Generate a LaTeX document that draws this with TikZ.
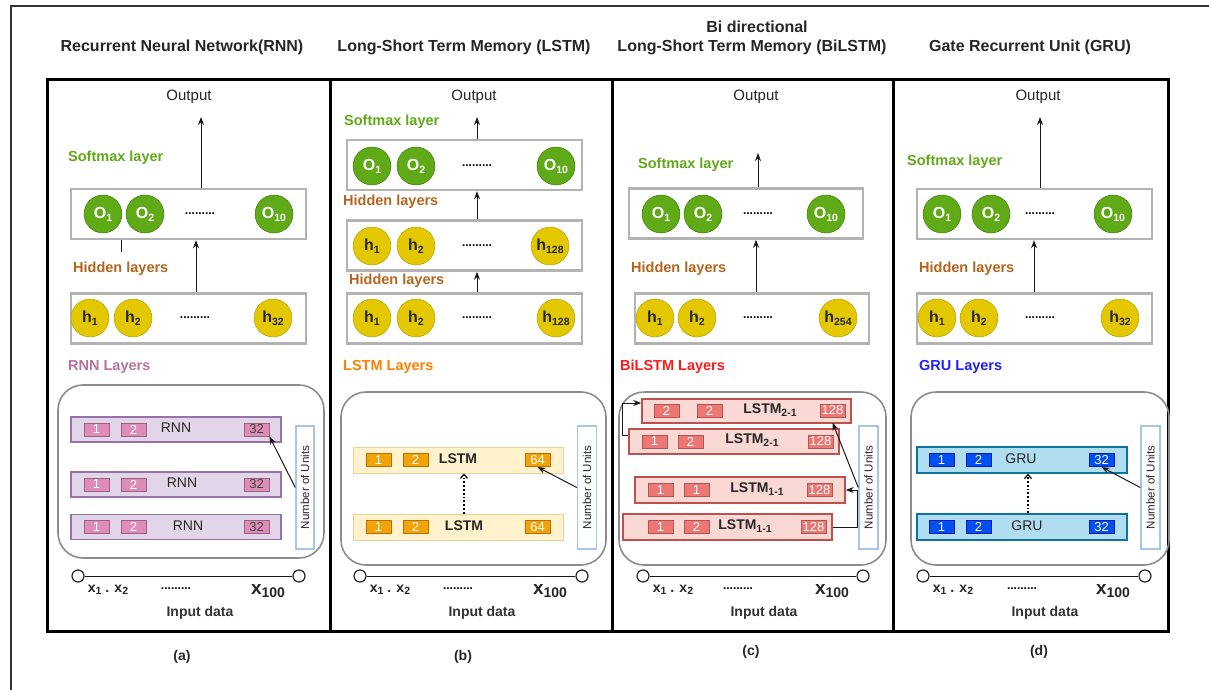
\documentclass[tikz,border=0pt]{standalone}
\usepackage{fontspec}
\setmainfont{Liberation Sans}
\usetikzlibrary{arrows.meta}

\definecolor{framecol}{HTML}{333333}
\definecolor{boxgray}{HTML}{B3B3B3}
\definecolor{contgray}{HTML}{8C8C8C}
\definecolor{softgreen}{HTML}{60A917}
\definecolor{softgreenline}{HTML}{2D7600}
\definecolor{hidyellow}{HTML}{E3C800}
\definecolor{hidyellowline}{HTML}{B09500}
\definecolor{hiddenbrown}{HTML}{B5651D}
\definecolor{rnnlbl}{HTML}{B5739D}
\definecolor{lstmlbl}{HTML}{FF8000}
\definecolor{bilstmlbl}{HTML}{FF1A1A}
\definecolor{grulbl}{HTML}{1F1FFF}
\definecolor{rnnbarfill}{HTML}{E1D5E7}
\definecolor{rnnbarline}{HTML}{9673A6}
\definecolor{rnncellfill}{HTML}{DE8DB6}
\definecolor{rnncellline}{HTML}{996185}
\definecolor{lstmbarfill}{HTML}{FFF2CC}
\definecolor{lstmbarline}{HTML}{D6B656}
\definecolor{lstmcellfill}{HTML}{F0A30A}
\definecolor{lstmcellline}{HTML}{BD7000}
\definecolor{bibarfill}{HTML}{FAD9D5}
\definecolor{bibarline}{HTML}{C0504D}
\definecolor{bicellfill}{HTML}{EC7774}
\definecolor{bicellline}{HTML}{B85450}
\definecolor{grubarfill}{HTML}{B1DDF0}
\definecolor{grubarline}{HTML}{10739E}
\definecolor{grucellfill}{HTML}{0050EF}
\definecolor{grucellline}{HTML}{001DBC}
\definecolor{unitsline}{HTML}{A9C4EB}

% lowered subscript with a fixed size
\newcommand{\lsub}[2][10.5]{\raisebox{-0.35ex}{\fontsize{#1}{#1}\selectfont #2}}

\tikzset{
  panel/.style={draw=black, line width=3pt},
  paneltitle/.style={font=\bfseries\fontsize{16}{16}\selectfont, text=black!85},
  outtext/.style={font=\fontsize{15}{15}\selectfont, text=black!85},
  layerlbl/.style={anchor=west, inner sep=0pt, font=\bfseries\fontsize{14.5}{14.5}\selectfont},
  layerbox/.style={draw=boxgray, line width=2.5pt, fill=white, minimum height=50pt, inner sep=0pt},
  onode/.style={circle, draw=softgreenline, fill=softgreen, minimum size=38pt, inner sep=0pt,
    text=white, font=\bfseries\fontsize{16}{16}\selectfont},
  hnode/.style={circle, draw=hidyellowline, fill=hidyellow, minimum size=38pt, inner sep=0pt,
    text=black!85, font=\bfseries\fontsize{16}{16}\selectfont},
  dotrow/.style={font=\bfseries\fontsize{12}{12}\selectfont, inner sep=0pt},
  container/.style={draw=contgray, line width=1.6pt, rounded corners=25pt, minimum height=173pt},
  cellbox/.style={minimum width=25pt, minimum height=13pt, inner sep=0pt, line width=1pt,
    text=white, font=\fontsize{13}{13}\selectfont},
  rnnbar/.style={draw=rnnbarline, fill=rnnbarfill, line width=1.3pt, minimum width=210pt, minimum height=25pt},
  rnncell/.style={cellbox, draw=rnncellline, fill=rnncellfill},
  lstmbar/.style={draw=lstmbarline!60, fill=lstmbarfill, line width=1pt, minimum width=210pt, minimum height=26pt},
  lstmcell/.style={cellbox, draw=lstmcellline, fill=lstmcellfill},
  bibar/.style={draw=bibarline, fill=bibarfill, line width=1.5pt, minimum width=209pt, minimum height=25pt},
  bicell/.style={cellbox, draw=bicellline, fill=bicellfill},
  grubar/.style={draw=grubarline, fill=grubarfill, line width=1.5pt, minimum width=210pt, minimum height=26pt},
  grucell/.style={cellbox, draw=grucellline, fill=grucellfill},
  bartext/.style={font=\fontsize{14}{14}\selectfont, text=black!85, inner sep=0pt},
  boldbar/.style={bartext, font=\bfseries\fontsize{14}{14}\selectfont},
  unitsbox/.style={draw=unitsline, fill=white, line width=1.5pt, minimum height=123pt, minimum width=19pt},
  unitstext/.style={rotate=90, font=\fontsize{11.5}{11.5}\selectfont, text=black!85, inner sep=0pt},
  incircle/.style={circle, draw=black!85, fill=white, line width=1.2pt, minimum size=12pt, inner sep=0pt},
  xtext/.style={font=\bfseries\fontsize{14}{14}\selectfont, text=black!85, inner sep=0pt},
  xbig/.style={font=\bfseries\fontsize{19}{19}\selectfont, text=black!85, inner sep=0pt},
  intext/.style={font=\bfseries\fontsize{14}{14}\selectfont, text=black!80},
  captext/.style={font=\bfseries\fontsize{14}{14}\selectfont, text=black!85},
  conn/.style={line width=1pt, draw=black!90},
  arr/.style={conn, -{Stealth[length=8pt,width=6pt]}},
  dotarr/.style={line width=1.8pt, dotted, -{Straight Barb[length=4pt,width=7pt,line width=1.2pt]}}
}

\begin{document}
\begin{tikzpicture}[x=1pt, y=-1pt]

\useasboundingbox (0,0) rectangle (1209,690);

% Outer frame and panels.

	\draw[framecol, line width=2pt] (11,690) -- (11,6) -- (1209,6);

	\draw[panel] (47,80) rectangle (330,631);
	\draw[panel] (330,80) rectangle (612,631);
	\draw[panel] (612,80) rectangle (893,631);
	\draw[panel] (893,80) rectangle (1168,631);

% Titles.

	\node[paneltitle] (aTitle) at (182,47) {Recurrent Neural Network(RNN)};
	\node[paneltitle] (bTitle) at (464,47) {Long-Short Term Memory (LSTM)};
	\node[paneltitle] (cTitleTop) at (757,27) {Bi directional};
	\node[paneltitle] (cTitle) at (752,47) {Long-Short Term Memory (BiLSTM)};
	\node[paneltitle] (dTitle) at (1030,47) {Gate Recurrent Unit (GRU)};

% Panel (a): RNN.

	%output and softmax layer
	\node[outtext] (aOut) at (189,97) {Output};
	\node[layerlbl, text=softgreen] (aSoftLbl) at (68,158) {Softmax layer};
	\node[layerbox, minimum width=235pt] (aSoft) at (188.5,214) {};
	\node[onode] (aO1) at (103,214) {O\lsub{1}};
	\node[onode] (aO2) at (145,214) {O\lsub{2}};
	\node[dotrow] (aOdots) at (200,214) {.........};
	\node[onode] (aO10) at (274,214) {O\lsub{10}};

	%hidden layer
	\node[layerlbl, text=hiddenbrown] (aHidLbl) at (73,269) {Hidden layers};
	\node[layerbox, minimum width=235pt] (aHid) at (188.5,318.5) {};
	\node[hnode] (ah1) at (90,318) {h\lsub{1}};
	\node[hnode] (ah2) at (133,318) {h\lsub{2}};
	\node[dotrow] (aHdots) at (195,318) {.........};
	\node[hnode] (ah32) at (273,318) {h\lsub{32}};

	%recurrent layers
	\node[layerlbl, text=rnnlbl] (aLayLbl) at (68,367) {RNN Layers};
	\node[container, minimum width=266pt] (aCont) at (191,471.5) {};

	\node[rnnbar] (aBar1) at (176,429.5) {};
	\node[rnncell] (a1a) at (96.5,429.5) {1};
	\node[rnncell] (a2a) at (133.5,429.5) {2};
	\node[bartext] (aTxt1) at (176,428) {RNN};
	\node[rnncell, text=black!75] (a32a) at (256.5,429.5) {32};

	\node[rnnbar] (aBar2) at (176,484.5) {};
	\node[rnncell] (a1b) at (96.5,484.5) {1};
	\node[rnncell] (a2b) at (133.5,484.5) {2};
	\node[bartext] (aTxt2) at (182,483) {RNN};
	\node[rnncell, text=black!75] (a32b) at (256.5,484.5) {32};

	\node[rnnbar] (aBar3) at (176,527) {};
	\node[rnncell] (a1c) at (96.5,527) {1};
	\node[rnncell] (a2c) at (133.5,527) {2};
	\node[bartext] (aTxt3) at (188,526) {RNN};
	\node[rnncell, text=black!75] (a32c) at (256.5,527) {32};

	\node[unitsbox, minimum width=18pt] (aUnits) at (305,487.5) {};
	\node[unitstext] (aUnitsTxt) at (aUnits) {Number of Units};

	%input data
	\node[incircle] (aIn1) at (78,576) {};
	\node[incircle] (aIn2) at (299,576) {};
	\node[xtext] (aX12) at (108,590) {x\lsub{1} . x\lsub{2}};
	\node[dotrow] (aXdots) at (176,589) {.........};
	\node[xbig] (aX100) at (268,591) {x\lsub[14]{100}};
	\node[intext] (aInLbl) at (200,613) {Input data};
	\node[captext] (aCap) at (182,657) {(a)};

	%connectors
	\coordinate (aOutTip) at (201,117);
	\coordinate (aUp) at (196,265);
	\coordinate (aStub) at (121,252);
	\draw[arr] (aOutTip |- aSoft.north) -- (aOutTip);
	\draw[arr] (aUp |- aHid.north) -- (aUp |- aSoft.south);
	\draw[conn] (aStub |- aSoft.south) -- (aStub);
	\draw[arr] (aUnits.west) -- (a32a.south east);
	\draw[conn] (aIn1) -- (aIn2);

% Panel (b): LSTM.

	%output and softmax layer
	\node[outtext] (bOut) at (474,97) {Output};
	\node[layerlbl, text=softgreen] (bSoftLbl) at (344,122) {Softmax layer};
	\node[layerbox, minimum width=235pt] (bSoft) at (464.5,165) {};
	\node[onode] (bO1) at (372,166) {O\lsub{1}};
	\node[onode] (bO2) at (416,166) {O\lsub{2}};
	\node[dotrow] (bOdots) at (477,166) {.........};
	\node[onode] (bO10) at (556,166) {O\lsub{10}};

	%hidden layers
	\node[layerlbl, text=hiddenbrown] (bHidLbl) at (343,202) {Hidden layers};
	\node[layerbox, minimum width=235pt] (bHid) at (464.5,245.5) {};
	\node[hnode] (bh1) at (372,246) {h\lsub{1}};
	\node[hnode] (bh2) at (416,246) {h\lsub{2}};
	\node[dotrow] (bHdots) at (477,246) {.........};
	\node[hnode] (bh128) at (550,246) {h\lsub{128}};

	\node[layerlbl, text=hiddenbrown] (bHidLblB) at (349,281) {Hidden layers};
	\node[layerbox, minimum width=235pt] (bHidB) at (464.5,318.5) {};
	\node[hnode] (bh1b) at (372,318) {h\lsub{1}};
	\node[hnode] (bh2b) at (416,318) {h\lsub{2}};
	\node[dotrow] (bHdotsB) at (477,318) {.........};
	\node[hnode] (bh128b) at (556,318) {h\lsub{128}};

	%lstm layers
	\node[layerlbl, text=lstmlbl] (bLayLbl) at (343,367) {LSTM Layers};
	\node[container, minimum width=265pt] (bCont) at (473.5,478.5) {};

	\node[lstmbar] (bBar1) at (458,460) {};
	\node[lstmcell] (b1a) at (378.5,460) {1};
	\node[lstmcell] (b2a) at (415.5,460) {2};
	\node[boldbar] (bTxt1) at (458,459) {LSTM};
	\node[lstmcell] (b64a) at (537.5,460) {64};

	\node[lstmbar] (bBar2) at (458,527) {};
	\node[lstmcell] (b1b) at (378.5,527) {1};
	\node[lstmcell] (b2b) at (415.5,527) {2};
	\node[boldbar] (bTxt2) at (464,526) {LSTM};
	\node[lstmcell] (b64b) at (537.5,527) {64};

	\node[unitsbox] (bUnits) at (587,487.5) {};
	\node[unitstext] (bUnitsTxt) at (bUnits) {Number of Units};

	%input data
	\node[incircle] (bIn1) at (360,576) {};
	\node[incircle] (bIn2) at (582,576) {};
	\node[xtext] (bX12) at (390,590) {x\lsub{1} . x\lsub{2}};
	\node[dotrow] (bXdots) at (458,589) {.........};
	\node[xbig] (bX100) at (550,591) {x\lsub[14]{100}};
	\node[intext] (bInLbl) at (482,613) {Input data};
	\node[captext] (bCap) at (463,657) {(b)};

	%connectors
	\coordinate (bOutTip) at (477,117);
	\coordinate (bUp) at (477,0);
	\coordinate (bDot) at (464,0);
	\draw[arr] (bOutTip |- bSoft.north) -- (bOutTip);
	\draw[arr] (bUp |- bHid.north) -- (bUp |- bSoft.south);
	\draw[arr] (bUp |- bHidB.north) -- (bUp |- bHid.south);
	\draw[dotarr] (bDot |- bBar2.north) -- (bDot |- bBar1.south);
	\draw[arr] (bUnits.west) -- (b64a.south);
	\draw[conn] (bIn1) -- (bIn2);

% Panel (c): BiLSTM.

	%output and softmax layer
	\node[outtext] (cOut) at (756,97) {Output};
	\node[layerlbl, text=softgreen] (cSoftLbl) at (638,165) {Softmax layer};
	\node[layerbox, minimum width=234pt] (cSoft) at (746,213.5) {};
	\node[onode] (cO1) at (661,214) {O\lsub{1}};
	\node[onode] (cO2) at (703,214) {O\lsub{2}};
	\node[dotrow] (cOdots) at (758,214) {.........};
	\node[onode] (cO10) at (826,214) {O\lsub{10}};

	%hidden layer
	\node[layerlbl, text=hiddenbrown] (cHidLbl) at (631,269) {Hidden layers};
	\node[layerbox, minimum width=234pt] (cHid) at (752,318.5) {};
	\node[hnode] (ch1) at (655,318) {h\lsub{1}};
	\node[hnode] (ch2) at (697,318) {h\lsub{2}};
	\node[dotrow] (cHdots) at (758,318) {.........};
	\node[hnode] (ch254) at (838,318) {h\lsub{254}};

	%bilstm layers
	\node[layerlbl, text=bilstmlbl] (cLayLbl) at (620,367) {BiLSTM Layers};
	\node[container, minimum width=267pt] (cCont) at (752.5,478.5) {};

	\node[bibar, minimum height=24pt] (cBar1) at (746.5,411) {};
	\node[bicell] (c2a) at (666.5,410.5) {2};
	\node[bicell] (c2aa) at (709.5,410.5) {2};
	\node[boldbar] (cTxt1) at (770,410) {LSTM\lsub{2-1}};
	\node[bicell] (c128a) at (832.5,410.5) {128};

	\node[bibar, minimum width=210pt] (cBar2) at (734,441.5) {};
	\node[bicell] (c1b) at (654.5,441.5) {1};
	\node[bicell] (c2b) at (690.5,441.5) {2};
	\node[boldbar] (cTxt2) at (752,440) {LSTM\lsub{2-1}};
	\node[bicell] (c128b) at (820.5,441.5) {128};

	\node[bibar, minimum width=210pt, minimum height=26pt] (cBar3) at (740,490) {};
	\node[bicell] (c1c) at (660.5,490) {1};
	\node[bicell] (c1cc) at (696.5,490) {1};
	\node[boldbar] (cTxt3) at (757,489) {LSTM\lsub{1-1}};
	\node[bicell] (c128c) at (819.5,490) {128};

	\node[bibar, minimum height=26pt] (cBar4) at (727.5,527) {};
	\node[bicell] (c1d) at (660.5,527) {1};
	\node[bicell] (c2d) at (696.5,527) {2};
	\node[boldbar] (cTxt4) at (745,526) {LSTM\lsub{1-1}};
	\node[bicell] (c128d) at (813.5,527) {128};

	\node[unitsbox] (cUnits) at (868.5,487.5) {};
	\node[unitstext] (cUnitsTxt) at (cUnits) {Number of Units};

	%input data
	\node[incircle] (cIn1) at (643,576) {};
	\node[incircle] (cIn2) at (863,576) {};
	\node[xtext] (cX12) at (673,590) {x\lsub{1} . x\lsub{2}};
	\node[dotrow] (cXdots) at (738,589) {.........};
	\node[xbig] (cX100) at (832,591) {x\lsub[14]{100}};
	\node[intext] (cInLbl) at (764,613) {Input data};
	\node[captext] (cCap) at (751,652) {(c)};

	%connectors
	\coordinate (cOutTip) at (758,153);
	\coordinate (cUp) at (756,0);
	\draw[arr] (cOutTip |- cSoft.north) -- (cOutTip);
	\draw[arr] (cUp |- cHid.north) -- (cUp |- cSoft.south);
	\draw[arr] ([yshift=6pt]cBar2.west) -- ++(-6,0) |- ([yshift=8pt]cBar1.west);
	\draw[arr] (cBar4.east) -- ++(25,0) |- (cBar3.east);
	\draw[arr] (cUnits.west) -- ([yshift=-5pt]c128a.south);
	\draw[conn] (cIn1) -- (cIn2);

% Panel (d): GRU.

	%output and softmax layer
	\node[outtext] (dOut) at (1038,97) {Output};
	\node[layerlbl, text=softgreen] (dSoftLbl) at (907,162) {Softmax layer};
	\node[layerbox, minimum width=235pt] (dSoft) at (1034.5,214) {};
	\node[onode] (dO1) at (942,214) {O\lsub{1}};
	\node[onode] (dO2) at (991,214) {O\lsub{2}};
	\node[dotrow] (dOdots) at (1040,214) {.........};
	\node[onode] (dO10) at (1113,214) {O\lsub{10}};

	%hidden layer
	\node[layerlbl, text=hiddenbrown] (dHidLbl) at (919,269) {Hidden layers};
	\node[layerbox, minimum width=235pt] (dHid) at (1034.5,318.5) {};
	\node[hnode] (dh1) at (937,318) {h\lsub{1}};
	\node[hnode] (dh2) at (979,318) {h\lsub{2}};
	\node[dotrow] (dHdots) at (1040,318) {.........};
	\node[hnode] (dh32) at (1120,318) {h\lsub{32}};

	%gru layers
	\node[layerlbl, text=grulbl] (dLayLbl) at (919,367) {GRU Layers};
	\node[container, minimum width=258pt] (dCont) at (1040,478.5) {};

	\node[grubar] (dBar1) at (1022,460) {};
	\node[grucell] (d1a) at (941.5,460) {1};
	\node[grucell] (d2a) at (978.5,460) {2};
	\node[bartext] (dTxt1) at (1021,459) {GRU};
	\node[grucell] (d32a) at (1101.5,460) {32};

	\node[grubar] (dBar2) at (1022,527) {};
	\node[grucell] (d1b) at (941.5,527) {1};
	\node[grucell] (d2b) at (978.5,527) {2};
	\node[bartext] (dTxt2) at (1027,526) {GRU};
	\node[grucell] (d32b) at (1101.5,527) {32};

	\node[unitsbox] (dUnits) at (1150.5,487.5) {};
	\node[unitstext] (dUnitsTxt) at (dUnits) {Number of Units};

	%input data
	\node[incircle] (dIn1) at (923,576) {};
	\node[incircle] (dIn2) at (1145,576) {};
	\node[xtext] (dX12) at (953,590) {x\lsub{1} . x\lsub{2}};
	\node[dotrow] (dXdots) at (1022,589) {.........};
	\node[xbig] (dX100) at (1113,591) {x\lsub[14]{100}};
	\node[intext] (dInLbl) at (1045,613) {Input data};
	\node[captext] (dCap) at (1039,652) {(d)};

	%connectors
	\coordinate (dOutTip) at (1040,117);
	\coordinate (dUp) at (1034,0);
	\coordinate (dDot) at (1028,0);
	\draw[arr] (dOutTip |- dSoft.north) -- (dOutTip);
	\draw[arr] (dUp |- dHid.north) -- (dUp |- dSoft.south);
	\draw[dotarr] (dDot |- dBar2.north) -- (dDot |- dBar1.south);
	\draw[arr] (dUnits.west) -- (d32a.south);
	\draw[conn] (dIn1) -- (dIn2);

\end{tikzpicture}
\end{document}
